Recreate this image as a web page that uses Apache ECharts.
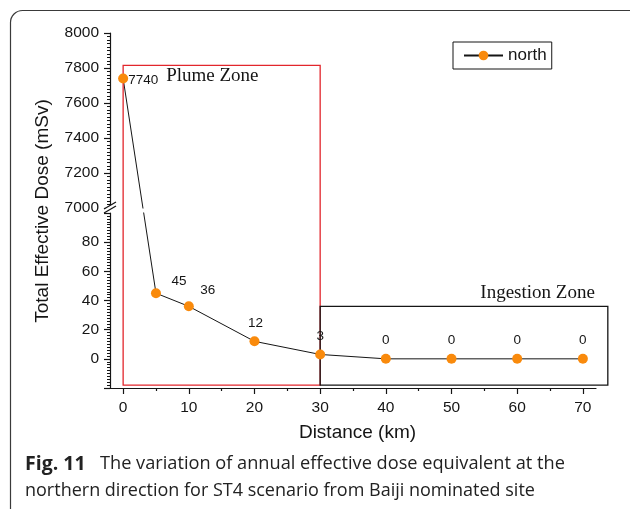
<!DOCTYPE html>
<html><head><meta charset="utf-8">
<script src="https://cdn.jsdelivr.net/npm/echarts@6/dist/echarts.min.js"></script>
<style>html,body{margin:0;padding:0;background:#fff}#c{width:630px;height:509px}</style>
</head><body><div id="c"></div>
<script>
// ---- data ----
const distances = [0, 5, 10, 20, 30, 40, 50, 60, 70];
const doses = [7740, 45, 36, 12, 3, 0, 0, 0, 0];
const xTickValues = [0, 10, 20, 30, 40, 50, 60, 70];
const xMinorTickValues = [5, 15, 25, 35, 45, 55, 65];
const upperRange = [7000, 8000];   // upper y segment
const lowerRange = [-20, 100];     // lower y segment
const xRange = [-2, 72];
const plumeZone = { x: [0, 30], yTop: 7815, yBottom: -18 };
const ingestionZone = { x: [30, 73.8], yTop: 36, yBottom: -18 };
const seriesName = 'north';
const yTitle = 'Total Effective Dose (mSv)';
const xTitle = 'Distance (km)';
const captionLine1Bold = 'Fig. 11';
const captionLine1 = 'The variation of annual effective dose equivalent at the';
const captionLine2 = 'northern direction for ST4 scenario from Baiji nominated site';

// ---- style ----
const ORANGE = '#f98a0c';
const INK = '#151515';
const FONT = '"Liberation Sans", Arial, sans-serif';
const labelOffsets = [[0, 2], [23, 5], [19, 1], [1, -1.5], [0, -1.5], [0, -1.5], [0, -1.5], [0, -1.5], [0, -1.5]];

const chart = echarts.init(document.getElementById('c'), null, { renderer: 'canvas' });

const upperData = [], lowerData = [];
distances.forEach((x, i) => {
  const v = doses[i];
  const item = { value: [x, v], label: { offset: labelOffsets[i] } };
  if (v >= upperRange[0]) { item.label.position = 'right'; item.label.distance = 0; upperData.push(item); }
  else lowerData.push(item);
});

const axisLineStyle = { color: INK, width: 1.2 };
const gridGeom = { left: 110, width: 486, height: 175 };
const tickFont = { fontSize: 15.5, color: INK, fontFamily: FONT };

const baseSeries = [
  {
    type: 'line', name: seriesName, xAxisIndex: 0, yAxisIndex: 0, data: upperData,
    symbol: 'circle', symbolSize: 10, itemStyle: { color: ORANGE },
    lineStyle: { color: INK, width: 1 }, z: 5,
    label: { show: true, position: 'right', fontSize: 13.5, color: INK, fontFamily: FONT, formatter: p => p.value[1] }
  },
  {
    type: 'line', name: seriesName, xAxisIndex: 1, yAxisIndex: 1, data: lowerData,
    symbol: 'circle', symbolSize: 10, itemStyle: { color: ORANGE },
    lineStyle: { color: INK, width: 1 }, z: 5,
    label: { show: true, position: 'top', fontSize: 13.5, color: INK, fontFamily: FONT, formatter: p => p.value[1] }
  }
];

chart.setOption({
  animation: false,
  backgroundColor: '#fff',
  grid: [
    Object.assign({ top: 33 }, gridGeom),
    Object.assign({ top: 213 }, gridGeom),
    Object.assign({ top: 213 }, gridGeom)
  ],
  xAxis: [
    { gridIndex: 0, type: 'value', min: xRange[0], max: xRange[1], show: false, axisLine: { onZero: false } },
    {
      gridIndex: 1, type: 'value', min: xRange[0], max: xRange[1], position: 'bottom',
      axisLine: { show: true, onZero: false, lineStyle: axisLineStyle },
      axisTick: { show: true, customValues: xTickValues, length: 6, lineStyle: axisLineStyle },
      axisLabel: Object.assign({ customValues: xTickValues, margin: 12 }, tickFont),
      splitLine: { show: false },
      name: xTitle, nameLocation: 'middle', nameGap: 35,
      nameTextStyle: { fontSize: 19, color: INK, fontFamily: FONT, padding: [0, 0, 0, 9] }
    },
    {
      gridIndex: 2, type: 'value', min: xRange[0], max: xRange[1], position: 'bottom',
      axisLine: { show: false, onZero: false },
      axisTick: { show: true, customValues: xMinorTickValues, length: 3, lineStyle: axisLineStyle },
      axisLabel: { show: false }, splitLine: { show: false }
    }
  ],
  yAxis: [
    {
      gridIndex: 0, type: 'value', min: upperRange[0], max: upperRange[1], interval: 200, position: 'left',
      axisLine: { show: true, onZero: false, lineStyle: axisLineStyle },
      axisTick: { show: true, length: 6, lineStyle: axisLineStyle },
      minorTick: { show: true, splitNumber: 10, length: 3, lineStyle: { color: INK, width: 1 } },
      axisLabel: Object.assign({ margin: 11, formatter: v => String(v) }, tickFont),
      splitLine: { show: false }
    },
    {
      gridIndex: 1, type: 'value', min: lowerRange[0], max: lowerRange[1], interval: 20, position: 'left',
      axisLine: { show: true, onZero: false, lineStyle: axisLineStyle },
      axisTick: { show: true, length: 6, lineStyle: axisLineStyle },
      minorTick: { show: true, splitNumber: 10, length: 3, lineStyle: { color: INK, width: 1 } },
      axisLabel: Object.assign({ margin: 11, formatter: v => (v < 0 || v > 80) ? '' : String(v) }, tickFont),
      splitLine: { show: false }
    },
    { gridIndex: 2, type: 'value', min: lowerRange[0], max: lowerRange[1], show: false, axisLine: { onZero: false } }
  ],
  legend: {
    data: [seriesName], left: 453, top: 42, orient: 'horizontal',
    borderColor: INK, borderWidth: 1, borderRadius: 0, padding: [5, 5, 5, 10],
    itemWidth: 39, itemHeight: 12, itemGap: 5,
    textStyle: { fontSize: 17, color: INK, fontFamily: FONT }
  },
  series: baseSeries
});

// ---- bridge segment across the axis break, through the library's scales ----
const upperFinder = { xAxisIndex: 0, yAxisIndex: 0 };
const lowerFinder = { xAxisIndex: 1, yAxisIndex: 1 };
const pTop = chart.convertToPixel(upperFinder, upperData[0].value);
const pBot = chart.convertToPixel(lowerFinder, lowerData[0].value);
const botInUpper = chart.convertFromPixel(upperFinder, pBot);
const topInLower = chart.convertFromPixel(lowerFinder, pTop);

const bridgeStyle = { type: 'line', symbol: 'none', silent: true, lineStyle: { color: INK, width: 1 }, z: 3, clip: true };
const series = baseSeries.concat([
  Object.assign({ name: 'bridgeU', xAxisIndex: 0, yAxisIndex: 0, data: [upperData[0].value, botInUpper] }, bridgeStyle),
  Object.assign({ name: 'bridgeL', xAxisIndex: 1, yAxisIndex: 1, data: [topInLower, lowerData[0].value] }, bridgeStyle)
]);

// zone rectangles
function zoneRect(z, topFinder) {
  const a = chart.convertToPixel(topFinder, [z.x[0], z.yTop]);
  const b = chart.convertToPixel(lowerFinder, [z.x[1], z.yBottom]);
  return { x: a[0], y: a[1], width: b[0] - a[0], height: b[1] - a[1] };
}
const plume = zoneRect(plumeZone, upperFinder);
const ingest = zoneRect(ingestionZone, lowerFinder);
const upperAxisBottom = chart.convertToPixel(upperFinder, [xRange[0], upperRange[0]]);
const serifFont = '19px "Liberation Serif", "Times New Roman", serif';

chart.setOption({
  series: series,
  graphic: [
    { type: 'rect', shape: { x: 10.5, y: 10.5, width: 660, height: 560, r: 12 }, style: { fill: 'none', stroke: '#3a3a3a', lineWidth: 1.2 }, silent: true, z: 0 },
    { type: 'rect', shape: plume, style: { fill: 'none', stroke: '#e2262c', lineWidth: 1.3 }, silent: true, z: 4 },
    { type: 'rect', shape: ingest, style: { fill: 'none', stroke: INK, lineWidth: 1.3 }, silent: true, z: 4 },
    { type: 'text', x: plume.x + 43, y: plume.y + 11, style: { text: 'Plume Zone', font: serifFont, fill: INK, textVerticalAlign: 'middle' }, silent: true },
    { type: 'text', x: ingest.x + ingest.width - 13, y: ingest.y - 13, style: { text: 'Ingestion Zone', font: serifFont, fill: INK, textAlign: 'right', textVerticalAlign: 'middle' }, silent: true },
    // axis break mark
    { type: 'polygon', shape: { points: [[upperAxisBottom[0] - 6, upperAxisBottom[1] + 1], [upperAxisBottom[0] + 6, upperAxisBottom[1] - 6], [upperAxisBottom[0] + 6, upperAxisBottom[1] - 2], [upperAxisBottom[0] - 6, upperAxisBottom[1] + 5]] }, style: { fill: '#fff' }, silent: true, z: 6 },
    { type: 'line', shape: { x1: upperAxisBottom[0] - 6, y1: upperAxisBottom[1] + 1, x2: upperAxisBottom[0] + 6, y2: upperAxisBottom[1] - 6 }, style: { stroke: INK, lineWidth: 1.3 }, silent: true, z: 7 },
    { type: 'line', shape: { x1: upperAxisBottom[0] - 6, y1: upperAxisBottom[1] + 5, x2: upperAxisBottom[0] + 6, y2: upperAxisBottom[1] - 2 }, style: { stroke: INK, lineWidth: 1.3 }, silent: true, z: 7 },
    // y axis title
    { type: 'text', x: 43, y: 211, rotation: Math.PI / 2, style: { text: yTitle, font: '19px ' + FONT, fill: INK, textAlign: 'center', textVerticalAlign: 'middle' }, silent: true },
    // caption
    { type: 'text', x: 25, y: 464, style: { text: captionLine1Bold, font: 'bold 19.5px "Open Sans", sans-serif', fill: '#222', textVerticalAlign: 'middle' }, silent: true },
    { type: 'text', x: 100, y: 464, style: { text: captionLine1, font: '18.2px "Open Sans", sans-serif', fill: '#222', textVerticalAlign: 'middle' }, silent: true },
    { type: 'text', x: 25, y: 491, style: { text: captionLine2, font: '18px "Open Sans", sans-serif', fill: '#222', textVerticalAlign: 'middle' }, silent: true }
  ]
});
</script></body></html>
